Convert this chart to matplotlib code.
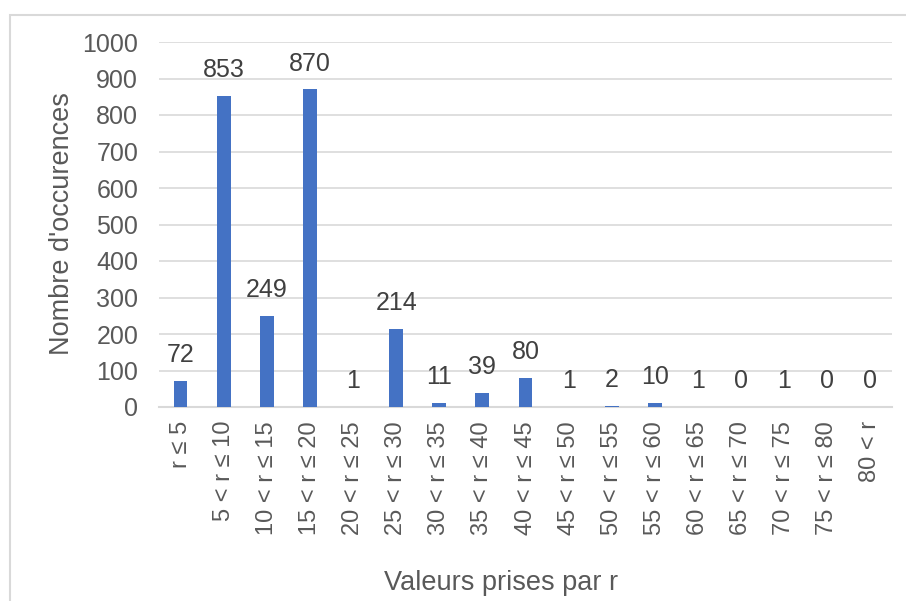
import matplotlib
matplotlib.use("Agg")
import matplotlib.pyplot as plt
from matplotlib.patches import Rectangle

plt.rcParams["font.family"] = ["Liberation Sans", "DejaVu Sans"]

categories = ["r ≤ 5", "5 < r ≤ 10", "10 < r ≤ 15", "15 < r ≤ 20", "20 < r ≤ 25",
              "25 < r ≤ 30", "30 < r ≤ 35", "35 < r ≤ 40", "40 < r ≤ 45", "45 < r ≤ 50",
              "50 < r ≤ 55", "55 < r ≤ 60", "60 < r ≤ 65", "65 < r ≤ 70", "70 < r ≤ 75",
              "75 < r ≤ 80", "80 < r"]
counts = [72, 853, 249, 870, 1, 214, 11, 39, 80, 1, 2, 10, 1, 0, 1, 0, 0]
y_ticks = list(range(0, 1001, 100))

W, H = 906, 601
fig = plt.figure(figsize=(W / 100, H / 100), dpi=100)
fig.patch.set_facecolor("white")

# chart frame
fig.patches.append(Rectangle((9.5 / W, -0.05), 1.2, 1 - 15.5 / H + 0.05,
                             transform=fig.transFigure, fill=False,
                             edgecolor="#D9D9D9", linewidth=1.5, zorder=0))

left, right = 159 / W, 892 / W
bottom, top = 1 - 407 / H, 1 - 42 / H
ax = fig.add_axes([left, bottom, right - left, top - bottom])

x = range(len(categories))
ax.bar(x, counts, width=0.32, color="#4472C4", zorder=3)

for xi, v in zip(x, counts):
    ax.annotate(str(v), (xi, v), xytext=(0, 10), textcoords="offset points",
                ha="center", va="bottom", fontsize=18, color="#404040")

ax.set_xlim(-0.5, len(categories) - 0.5)
ax.set_ylim(0, 1000)
ax.set_yticks(y_ticks)
ax.set_yticklabels([str(t) for t in y_ticks], fontsize=18, color="#595959")
ax.set_xticks(list(x))
ax.set_xticklabels(categories, rotation=90, fontsize=17, color="#595959")
ax.tick_params(axis="both", length=0)
ax.tick_params(axis="y", pad=15)
ax.tick_params(axis="x", pad=10)

ax.grid(axis="y", color="#D9D9D9", linewidth=1.2, zorder=0)
for s in ["top", "right", "left"]:
    ax.spines[s].set_visible(False)
ax.spines["bottom"].set_color("#D9D9D9")
ax.spines["bottom"].set_linewidth(1.5)
ax.set_axisbelow(True)

fig.text(62 / W, 1 - 224 / H, "Nombre d'occurences", rotation=90,
         ha="center", va="center", fontsize=19.5, color="#595959")
fig.text(501 / W, 1 - 583 / H, "Valeurs prises par r",
         ha="center", va="center", fontsize=19.5, color="#595959")

fig.savefig("out.png", dpi=100)
